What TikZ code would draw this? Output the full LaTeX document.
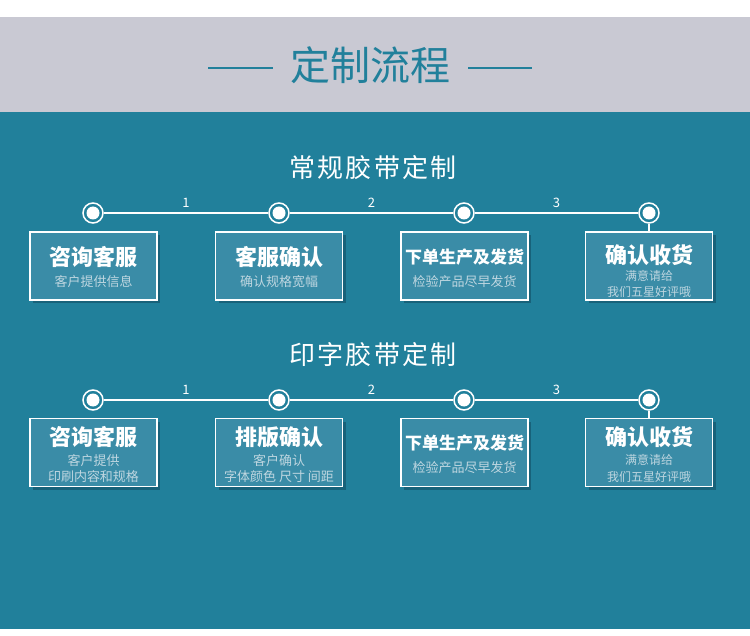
\documentclass[tikz,border=0pt]{standalone}
\usepackage{fontspec}
\newfontfamily\cjk{Noto Sans CJK SC}
\newfontfamily\cjkwide[LetterSpace=8]{Noto Sans CJK SC}
\usetikzlibrary{shadows}

\definecolor{bandgray}{RGB}{201,201,211}
\definecolor{seablue}{RGB}{33,128,155}
\definecolor{boxblue}{RGB}{58,140,167}
\definecolor{shadeblue}{RGB}{24,98,122}
\definecolor{subgray}{RGB}{190,214,224}

\begin{document}
\begin{tikzpicture}[
    x=1pt, y=-1pt,
    font=\cjk,
    dot/.style={circle, draw=white, line width=1.5pt, fill=seablue,
        minimum size=20pt, inner sep=0pt,
        path picture={\fill[white] (path picture bounding box.center) circle (6.5pt);}},
    link/.style={white, line width=1.6pt},
    num/.style={text=white, font=\cjk\fontsize{13}{13}\selectfont},
    card/.style={draw=white, line width=1.2pt, fill=boxblue,
        minimum width=127pt, minimum height=68pt, inner sep=0pt,
        drop shadow={shadow xshift=3pt, shadow yshift=-3pt, fill=shadeblue, opacity=1}},
    head/.style={text=white, font=\cjkwide\fontsize{26}{26}\selectfont},
    ttl/.style={text=white, font=\cjk\bfseries\fontsize{22}{22}\selectfont},
    ttlsmall/.style={text=white, font=\cjk\bfseries\fontsize{17}{17}\selectfont},
    sub/.style={text=subgray, font=\cjk\fontsize{13}{13}\selectfont},
    subsmall/.style={text=subgray, font=\cjk\fontsize{12}{12}\selectfont}
    ]

    \useasboundingbox (0,0) rectangle (750,636);
    \fill[white] (0,0) rectangle (750,636);
    \fill[bandgray] (0,17) rectangle (750,112);
    \fill[seablue] (0,112) rectangle (750,629);

    % title band
    \node[text=seablue, font=\cjk\fontsize{40}{40}\selectfont] (title) at (370,65) {定制流程};
    \draw[seablue, line width=1.5pt] (208,68) -- (273,68);
    \draw[seablue, line width=1.5pt] (468,68) -- (532,68);

    % first row
    \node[head] (plain) at (373,168) {常规胶带定制};

    \node[dot] (p1) at (93,213) {};
    \node[dot] (p2) at (279,213) {};
    \node[dot] (p3) at (464,213) {};
    \node[dot] (p4) at (649,213) {};

    \draw[link] (p1) -- node[num, above=1pt]{1} (p2);
    \draw[link] (p2) -- node[num, above=1pt]{2} (p3);
    \draw[link] (p3) -- node[num, above=1pt]{3} (p4);

    \node[card] (b1) at (93.5,266) {};
    \node[card] (b2) at (279,266) {};
    \node[card] (b3) at (464.5,266) {};
    \node[card] (b4) at (649,266) {};
    \draw[link] (p4) -- (b4);

    \node[ttl] (b1t) at (93.5,257) {咨询客服};
    \node[sub] (b1s) at (93.5,282) {客户提供信息};
    \node[ttl] (b2t) at (279,257) {客服确认};
    \node[sub] (b2s) at (279,282) {确认规格宽幅};
    \node[ttlsmall] (b3t) at (464.5,257) {下单生产及发货};
    \node[sub] (b3s) at (464.5,282) {检验产品尽早发货};
    \node[ttl] (b4t) at (649,255) {确认收货};
    \node[subsmall] (b4s) at (649,276) {满意请给};
    \node[subsmall] (b4u) at (649,292) {我们五星好评哦};

    % second row
    \node[head] (print) at (373,355) {印字胶带定制};

    \node[dot] (q1) at (93,400) {};
    \node[dot] (q2) at (279,400) {};
    \node[dot] (q3) at (464,400) {};
    \node[dot] (q4) at (649,400) {};

    \draw[link] (q1) -- node[num, above=1pt]{1} (q2);
    \draw[link] (q2) -- node[num, above=1pt]{2} (q3);
    \draw[link] (q3) -- node[num, above=1pt]{3} (q4);

    \node[card] (c1) at (93.5,452.5) {};
    \node[card] (c2) at (279,452.5) {};
    \node[card] (c3) at (464.5,452.5) {};
    \node[card] (c4) at (649,452.5) {};
    \draw[link] (q4) -- (c4);

    \node[ttl] (c1t) at (93.5,437) {咨询客服};
    \node[sub] (c1s) at (93.5,461) {客户提供};
    \node[sub] (c1u) at (93.5,477) {印刷内容和规格};
    \node[ttl] (c2t) at (279,437) {排版确认};
    \node[sub] (c2s) at (279,461) {客户确认};
    \node[sub] (c2u) at (279,477) {字体颜色 尺寸 间距};
    \node[ttlsmall] (c3t) at (464.5,443) {下单生产及发货};
    \node[sub] (c3s) at (464.5,468) {检验产品尽早发货};
    \node[ttl] (c4t) at (649,437) {确认收货};
    \node[subsmall] (c4s) at (649,460) {满意请给};
    \node[subsmall] (c4u) at (649,477) {我们五星好评哦};

\end{tikzpicture}
\end{document}
